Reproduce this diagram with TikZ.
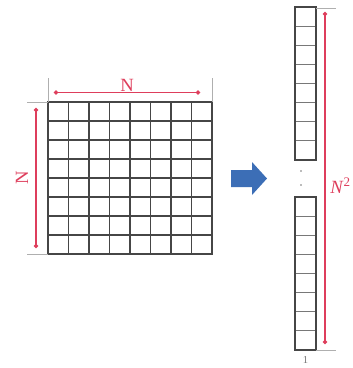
\documentclass[tikz,border=0pt]{standalone}
\usepackage{fontspec}
\setmainfont{Liberation Serif}
\usetikzlibrary{arrows.meta}
\definecolor{dimred}{RGB}{222,62,92}
\definecolor{extgray}{RGB}{175,175,175}
\definecolor{gridgray}{RGB}{70,70,70}
\definecolor{cellgray}{RGB}{120,120,120}
\definecolor{arrowblue}{RGB}{60,110,182}
\tikzset{
  dimline/.style={draw=dimred, line width=1.1pt, {Circle[length=3pt]}-{Circle[length=3pt]}},
  extline/.style={draw=extgray, line width=0.4pt},
  outer/.style={draw=gridgray, line width=1pt},
  inner/.style={draw=gridgray, line width=0.8pt},
  cellline/.style={draw=cellgray, line width=0.6pt},
  dimlabel/.style={text=dimred, font=\fontsize{14}{16}\selectfont, inner sep=0pt},
}
\begin{document}
\begin{tikzpicture}[x=0.75pt, y=-0.75pt]
\useasboundingbox (0,0) rectangle (353,368);
% matrix grid
\foreach \i in {1,...,7} {
  \draw[inner] ({48+\i*20.5},102) -- ({48+\i*20.5},254);
  \draw[inner] (48,{102+\i*19}) -- (212,{102+\i*19});
}
\draw[outer] (48,102) rectangle (212,254);
% extension lines
\draw[extline] (48,78) -- (48,102);
\draw[extline] (212,78) -- (212,102);
\draw[extline] (27,102) -- (48,102);
\draw[extline] (27,254) -- (48,254);
% dimension lines
\coordinate (tl) at (54,92.5);
\coordinate (tr) at (200,92.5);
\coordinate (lt) at (36,108);
\coordinate (lb) at (36,248);
\draw[dimline] (tl) -- (tr);
\draw[dimline] (lt) -- (lb);
\node[dimlabel] (ntop) at (127,85) {N};
\node[dimlabel, rotate=90] (nleft) at (22,178) {N};
% blue arrow
\fill[arrowblue] (231,170) -- (252,170) -- (252,162) -- (267,178.5) -- (252,195) -- (252,187) -- (231,187) -- cycle;
% column vector
\foreach \i in {1,...,7} {
  \draw[cellline] (295,{7+\i*19.1}) -- (316,{7+\i*19.1});
  \draw[cellline] (295,{197+\i*19.1}) -- (316,{197+\i*19.1});
}
\draw[outer] (295,7) rectangle (316,160);
\draw[outer] (295,197) rectangle (316,350);
\fill[cellgray] (301,171) circle (0.9);
\fill[cellgray] (301,185) circle (0.9);
\node[text=cellgray, font=\fontsize{8}{9}\selectfont, inner sep=0pt] (one) at (305.5,360) {1};
% N^2 dimension
\draw[extline] (316,8) -- (336,8);
\draw[extline] (316,350) -- (336,350);
\coordinate (rt) at (325,12);
\coordinate (rb) at (325,344);
\draw[dimline] (rt) -- (rb);
\node[dimlabel, anchor=west] (nsq) at (330,186) {\textit{N}\textsuperscript{2}};
\end{tikzpicture}
\end{document}
